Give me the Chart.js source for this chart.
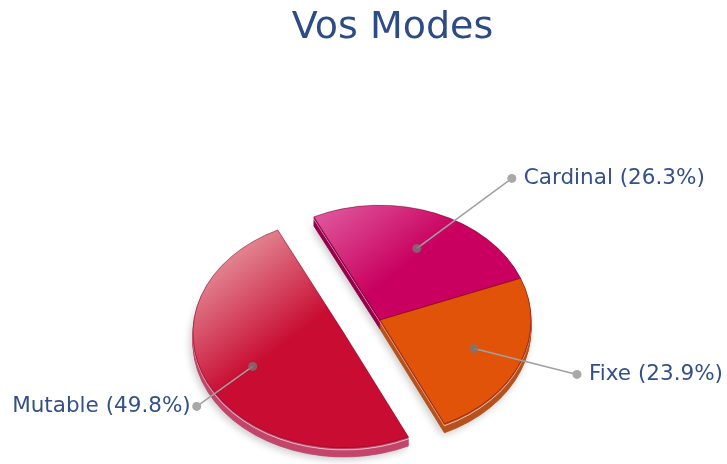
<!DOCTYPE html>
<html>
<head>
<meta charset="utf-8">
<script src="https://cdn.jsdelivr.net/npm/chart.js@4.4.0/dist/chart.umd.min.js"></script>
<style>
  html, body { margin: 0; padding: 0; background: #fff; }
  canvas { display: block; }
</style>
</head>
<body>
<canvas id="modesChart" width="727" height="464"></canvas>
<script>
const modes = ['Cardinal', 'Fixe', 'Mutable'];
const shares = [26.3, 23.9, 49.8];

// top face: highlight tone (upper left) and base tone; side wall tone
const faceLight = ['#e05ca0', '#e3600f', '#e2828f'];
const faceBase = ['#c9005f', '#e05308', '#c80c32'];
const sideColors = ['#96004e', '#b8511a', '#c3456b'];
const explode = [0, 0, 40];
const calloutVec = [[95, -70], [103, 26], [-56, 40]];

const pieCenter = { x: 380, y: 320 };
const pieRadius = 151;
const squash = 0.76;
const depth = 9;
const textBlue = '#33508a';

function faceFill(c) {
    const area = c.chart.chartArea;
    if (!area) return faceBase[c.dataIndex];
    const cx = (area.left + area.right) / 2;
    const cy = (area.top + area.bottom) / 2;
    const g = c.chart.ctx.createLinearGradient(cx - pieRadius, cy - pieRadius, cx, cy);
    g.addColorStop(0, faceLight[c.dataIndex]);
    g.addColorStop(0.3, faceLight[c.dataIndex]);
    g.addColorStop(0.85, faceBase[c.dataIndex]);
    g.addColorStop(1, faceBase[c.dataIndex]);
    return g;
}

// draws the pie squashed into an ellipse with a thickness, pulls slices out
const tiltedPie = {
    id: 'tiltedPie',
    beforeDatasetDraw(chart, args) {
        const ctx = chart.ctx;
        const arcs = args.meta.data;
        const place = (el, i, drop) => {
            const mid = (el.startAngle + el.endAngle) / 2;
            ctx.translate(pieCenter.x, pieCenter.y + drop);
            ctx.scale(1, squash);
            ctx.translate(-el.x + Math.cos(mid) * explode[i], -el.y + Math.sin(mid) * explode[i]);
        };
        for (let d = depth; d >= 1; d--) {
            arcs.forEach((el, i) => {
                const opts = el.options;
                // a pale line runs just under the top edge of each wall
                const wall = d === 2 ? 'rgba(245,200,200,0.9)' : sideColors[i];
                el.options = Object.assign({}, opts, { backgroundColor: wall, borderColor: wall });
                ctx.save();
                if (d === depth) {
                    ctx.shadowColor = 'rgba(0,0,0,0.22)';
                    ctx.shadowBlur = 8;
                    ctx.shadowOffsetX = -2;
                    ctx.shadowOffsetY = 2;
                }
                place(el, i, d);
                el.draw(ctx);
                ctx.restore();
                el.options = opts;
            });
        }
        arcs.forEach((el, i) => {
            ctx.save();
            place(el, i, 0);
            el.draw(ctx);
            ctx.restore();
        });
        return false;
    },
    afterDraw(chart) {
        const ctx = chart.ctx;
        const meta = chart.getDatasetMeta(0);
        const total = shares.reduce((a, b) => a + b, 0);
        ctx.save();
        meta.data.forEach((el, i) => {
            const mid = (el.startAngle + el.endAngle) / 2;
            const rr = el.outerRadius * 0.67 + explode[i];
            const ax = pieCenter.x + Math.cos(mid) * rr;
            const ay = pieCenter.y + Math.sin(mid) * rr * squash;
            const bx = ax + calloutVec[i][0];
            const by = ay + calloutVec[i][1];

            ctx.strokeStyle = '#a0a0a0';
            ctx.lineWidth = 1.5;
            ctx.beginPath();
            ctx.moveTo(ax, ay);
            ctx.lineTo(bx, by);
            ctx.stroke();

            ctx.fillStyle = 'rgba(120,120,120,0.75)';
            ctx.beginPath();
            ctx.arc(ax, ay, 4.5, 0, Math.PI * 2);
            ctx.fill();
            ctx.fillStyle = '#a8a8a8';
            ctx.beginPath();
            ctx.arc(bx, by, 4.5, 0, Math.PI * 2);
            ctx.fill();

            const pct = (shares[i] / total * 100).toFixed(1);
            ctx.font = '21.5px "DejaVu Sans"';
            ctx.fillStyle = textBlue;
            ctx.textBaseline = 'middle';
            if (calloutVec[i][0] < 0) {
                ctx.textAlign = 'right';
                ctx.fillText(modes[i] + ' (' + pct + '%)', bx - 6, by);
            } else {
                ctx.textAlign = 'left';
                ctx.fillText(modes[i] + ' (' + pct + '%)', bx + 12, by);
            }
        });
        ctx.restore();
    }
};

new Chart(document.getElementById('modesChart'), {
    type: 'pie',
    data: {
        labels: modes,
        datasets: [{
            data: shares,
            backgroundColor: faceFill,
            borderColor: 'rgba(110,0,30,0.55)',
            borderWidth: 1,
            radius: pieRadius,
            clip: false
        }]
    },
    options: {
        responsive: false,
        animation: false,
        devicePixelRatio: 1,
        rotation: -26,
        layout: { padding: { left: 58 } },
        plugins: {
            legend: { display: false },
            tooltip: { enabled: false },
            title: {
                display: true,
                text: 'Vos Modes',
                color: '#2d4b84',
                font: { family: 'DejaVu Sans', size: 38, weight: 'normal' },
                padding: { top: 5, bottom: 10 }
            }
        }
    },
    plugins: [tiltedPie]
});
</script>
</body>
</html>
